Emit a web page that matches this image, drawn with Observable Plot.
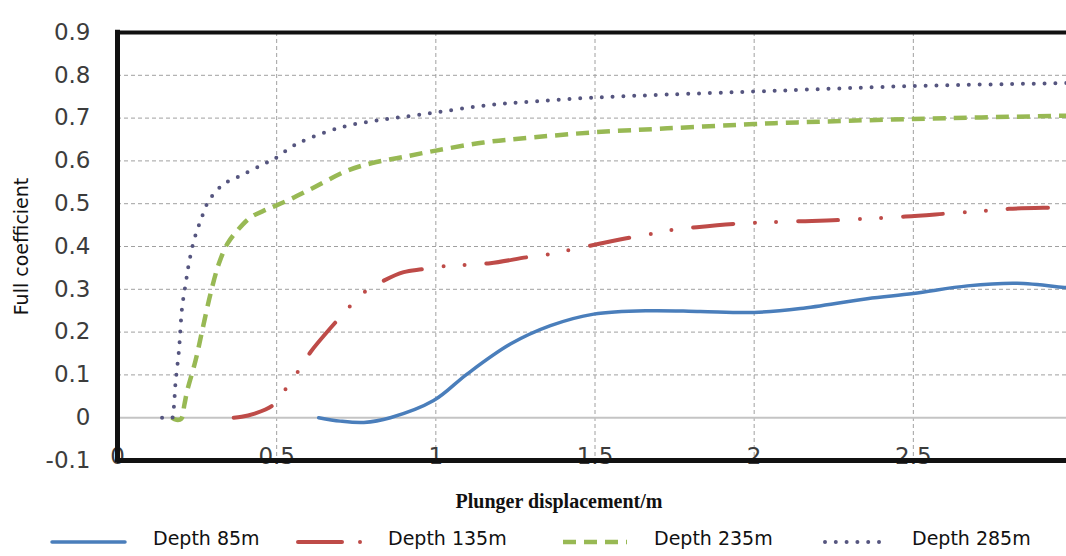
<!DOCTYPE html>
<html>
<head>
<meta charset="utf-8">
<script src="https://cdn.jsdelivr.net/npm/d3@7"></script>
<script src="https://cdn.jsdelivr.net/npm/@observablehq/plot@0.6"></script>
<style>
  html, body { margin: 0; padding: 0; background: white; }
  #chart { width: 1066px; height: 520px; overflow: hidden; }
  #legend { position: relative; width: 1066px; height: 36px; font-family: "DejaVu Sans", sans-serif; font-size: 19px; color: #111; }
  #legend .item { position: absolute; top: 0; height: 36px; display: flex; align-items: center; }
  #legend svg { display: block; }
</style>
</head>
<body>
<div id="chart"></div>
<div id="legend"></div>
<script>
// ---- data ----
const seriesNames = ["Depth 85m", "Depth 135m", "Depth 235m", "Depth 285m"];
const seriesColors = ["#4a7ebb", "#be4b48", "#98b954", "#55557f"];
const seriesDash = ["none", "40,22,0,21,0,22", "13,8", "0,10.8"];
const seriesWidth = [3.5, 4, 4.5, 4];

const x85 = [0.632, 0.70, 0.774, 0.857, 0.993, 1.098, 1.234, 1.36, 1.496, 1.674, 1.831, 2.0, 2.145, 2.355, 2.5, 2.67, 2.826, 2.98, 3.0];
const y85 = [0, -0.008, -0.011, 0, 0.04, 0.102, 0.172, 0.215, 0.242, 0.25, 0.248, 0.246, 0.255, 0.278, 0.29, 0.308, 0.314, 0.304, 0.303];

const x135 = [0.365, 0.39, 0.428, 0.486, 0.528, 0.569, 0.606, 0.685, 0.732, 0.779, 0.836, 0.899, 0.957, 1.025, 1.098, 1.171, 1.287, 1.355, 1.517, 1.611, 1.68, 1.746, 1.82, 1.94, 2.01, 2.145, 2.27, 2.475, 2.607, 2.735, 2.8, 2.94, 3.0];
const y135 = [0, 0.002, 0.009, 0.028, 0.067, 0.11, 0.153, 0.223, 0.262, 0.295, 0.32, 0.34, 0.347, 0.354, 0.357, 0.361, 0.375, 0.382, 0.407, 0.421, 0.43, 0.439, 0.445, 0.453, 0.456, 0.459, 0.462, 0.47, 0.477, 0.484, 0.488, 0.491, 0.492];

const x235 = [0.17, 0.185, 0.2, 0.21, 0.219, 0.245, 0.266, 0.292, 0.318, 0.345, 0.376, 0.418, 0.47, 0.533, 0.617, 0.721, 0.8, 0.889, 1.0, 1.15, 1.307, 1.5, 1.727, 2.0, 2.136, 2.5, 3.0];
const y235 = [0, -0.005, -0.003, 0.03, 0.063, 0.133, 0.203, 0.289, 0.359, 0.406, 0.437, 0.468, 0.487, 0.507, 0.538, 0.577, 0.595, 0.608, 0.624, 0.643, 0.655, 0.667, 0.676, 0.686, 0.69, 0.698, 0.706];

const x285 = [0.14, 0.172, 0.177, 0.182, 0.193, 0.203, 0.214, 0.224, 0.24, 0.261, 0.287, 0.334, 0.397, 0.459, 0.491, 0.549, 0.6, 0.7, 0.8, 0.889, 1.0, 1.15, 1.307, 1.5, 1.727, 2.0, 2.145, 2.5, 3.0];
const y285 = [0, 0, 0.024, 0.079, 0.157, 0.258, 0.312, 0.359, 0.414, 0.46, 0.507, 0.546, 0.569, 0.593, 0.604, 0.634, 0.652, 0.678, 0.693, 0.702, 0.713, 0.729, 0.739, 0.748, 0.755, 0.762, 0.766, 0.775, 0.782];

const xTicks = [0, 0.5, 1, 1.5, 2, 2.5];
const xTickLabels = ["0", "0.5", "1", "1.5", "2", "2.5"];
const yTicks = [-0.1, 0, 0.1, 0.2, 0.3, 0.4, 0.5, 0.6, 0.7, 0.8, 0.9];
const yTickLabels = ["-0.1", "0", "0.1", "0.2", "0.3", "0.4", "0.5", "0.6", "0.7", "0.8", "0.9"];
const xGrid = [0.5, 1, 1.5, 2, 2.5, 3];
const yGrid = [0.1, 0.2, 0.3, 0.4, 0.5, 0.6, 0.7, 0.8];

const xTitle = "Plunger displacement/m";
const yTitle = "Full coefficient";

// ---- build table ----
const xs = [x85, x135, x235, x285];
const ys = [y85, y135, y235, y285];
const data = [];
seriesNames.forEach((name, k) => {
  xs[k].forEach((xv, i) => data.push({series: name, k, x: xv, y: ys[k][i]}));
});

const lineMarks = seriesNames.map((name, k) =>
  Plot.line(data.filter(d => d.k === k), {
    x: "x", y: "y", curve: "catmull-rom",
    stroke: seriesColors[k], strokeWidth: seriesWidth[k],
    strokeDasharray: seriesDash[k] === "none" ? null : seriesDash[k],
    strokeLinecap: k === 2 ? "butt" : "round",
    strokeLinejoin: "round"
  })
);

const chart = Plot.plot({
  width: 1066,
  height: 520,
  marginLeft: 117,
  marginTop: 32,
  marginBottom: 60,
  marginRight: 0,
  style: {fontFamily: "DejaVu Sans, sans-serif", background: "white", overflow: "hidden"},
  x: {domain: [0, 3], range: [117, 1072], axis: null},
  y: {domain: [-0.1, 0.9], axis: null},
  marks: [
    // grid
    Plot.ruleY(yGrid, {stroke: "#a0a0a0", strokeWidth: 1, strokeDasharray: "4,3"}),
    Plot.ruleX(xGrid, {stroke: "#a0a0a0", strokeWidth: 1, strokeDasharray: "4,3"}),
    Plot.ruleY([0], {stroke: "#c4c4c4", strokeWidth: 2}),
    // y tick labels
    Plot.text(yTicks, {
      y: d => d, frameAnchor: "left", dx: -27, textAnchor: "end",
      text: (d, i) => yTickLabels[i], fontSize: 23, fill: "#3c3c3c"
    }),
    // x tick labels (sit on the bottom axis line)
    Plot.text(xTicks, {
      x: d => d, frameAnchor: "bottom", lineAnchor: "bottom", dy: 3,
      text: (d, i) => xTickLabels[i], fontSize: 23, fill: "#3c3c3c"
    }),
    // series
    ...lineMarks,
    // frame lines
    Plot.ruleY([-0.1], {stroke: "#111", strokeWidth: 5}),
    Plot.ruleY([0.9], {stroke: "#111", strokeWidth: 4}),
    Plot.ruleX([0], {stroke: "#111", strokeWidth: 5, y1: -0.105, y2: 0.905}),
    // axis titles
    Plot.text([xTitle], {
      frameAnchor: "bottom", lineAnchor: "bottom", dy: 47, dx: -33,
      text: d => d, fontSize: 20, fontWeight: "bold",
      fontFamily: "Liberation Serif, Times New Roman, serif", fill: "#111"
    }),
    Plot.text([yTitle], {
      frameAnchor: "left", dx: -96, rotate: -90, textAnchor: "middle",
      text: d => d, fontSize: 19, fill: "#111"
    })
  ]
});
document.getElementById("chart").appendChild(chart);

// ---- legend ----
const legendSampleLeft = [49, 295, 560, 822];
const legendSampleWidth = [76, 68, 67, 62];
const legendTextLeft = [153, 388, 654, 912];
const legend = document.getElementById("legend");
seriesNames.forEach((name, k) => {
  const s = document.createElement("div");
  s.className = "item";
  s.style.left = legendSampleLeft[k] + "px";
  s.style.top = "4px";
  const w = legendSampleWidth[k];
  const dash = k === 1 ? "44,18,0,100" : (seriesDash[k] === "none" ? "" : seriesDash[k]);
  const cap = k === 2 ? "butt" : "round";
  s.innerHTML = `<svg width="${w + 6}" height="12"><line x1="3" y1="6" x2="${w}" y2="6" stroke="${seriesColors[k]}" stroke-width="${seriesWidth[k]}" stroke-linecap="${cap}" ${dash ? `stroke-dasharray="${dash}"` : ""}/></svg>`;
  legend.appendChild(s);
  const t = document.createElement("div");
  t.className = "item";
  t.style.left = legendTextLeft[k] + "px";
  t.textContent = name;
  legend.appendChild(t);
});
</script>
</body>
</html>
